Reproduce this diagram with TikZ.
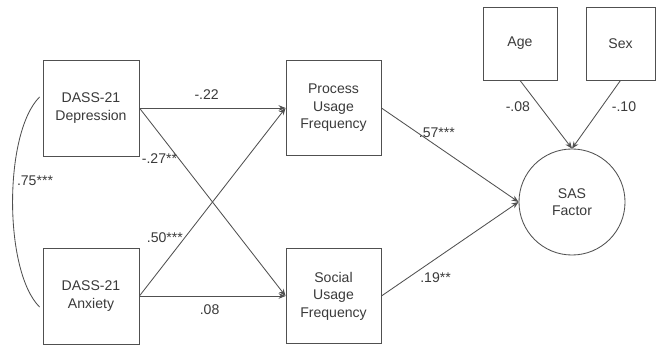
\documentclass[tikz,border=0pt]{standalone}
\usepackage{fontspec}
\setmainfont{Liberation Sans}
\usetikzlibrary{arrows.meta}
\definecolor{linegray}{HTML}{505050}
\definecolor{textgray}{HTML}{3A3A3A}

\begin{document}
\begin{tikzpicture}[x=0.025cm, y=-0.025cm,
  font=\fontsize{10}{12.5}\selectfont, text=textgray,
  box/.style={draw=linegray, line width=0.6pt, minimum size=2.4cm, align=center, inner sep=0pt},
  cov/.style={draw=linegray, line width=0.6pt, minimum width=1.85cm, minimum height=1.825cm, inner sep=0pt},
  link/.style={draw=linegray, line width=0.6pt, -{Stealth[length=5pt,width=4pt]}},
  coef/.style={inner sep=1pt}]
\useasboundingbox (0,0) rectangle (656,346);

% Predictors
\node[box] (dep) at (91,108) {DASS-21\\Depression};
\node[box] (anx) at (91,296) {DASS-21\\Anxiety};

% Mediators
\node[box, minimum size=2.375cm] (proc) at (333.5,108) {Process\\Usage\\Frequency};
\node[box, minimum size=2.375cm] (soc) at (333.5,296) {Social\\Usage\\Frequency};

% Outcome and covariates
\node[draw=linegray, line width=0.6pt, circle, minimum size=2.65cm, align=center, inner sep=0pt] (sas) at (572,202) {SAS\\Factor};
\node[cov] (age) at (520,43.5) {Age};
\node[cov, minimum width=1.725cm] (sex) at (620.5,43.5) {Sex};

% Correlation between predictors
\coordinate (ctop) at ([shift={(-3,-11)}]dep.west);
\coordinate (cbot) at ([shift={(-3,11)}]anx.west);
\draw[linegray, line width=0.6pt] (ctop) .. controls +(-36,36) and +(-36,-36) .. (cbot);
\node[coef] (rdep) at (35,181) {.75***};

% Paths
\draw[link] (dep.east) -- node[coef, above, pos=0.46, yshift=5pt] {-.22} (proc.west);
\draw[link] (dep.east) -- node[coef, anchor=east, pos=0.27] {-.27**} (soc.west);
\draw[link] (anx.east) -- node[coef, anchor=east, pos=0.31] {.50***} (proc.west);
\draw[link] (anx.east) -- node[coef, below, pos=0.48, yshift=-5pt] {.08} (soc.west);
\draw[link] (proc.east) -- node[coef, anchor=west, pos=0.26] {.57***} (sas.west);
\draw[link] (soc.east) -- node[coef, anchor=north west, pos=0.27] {.19**} (sas.west);
\draw[link] (age.south) -- node[coef, anchor=east, pos=0.39, xshift=-6pt] {-.08} (sas.north);
\draw[link] (sex.south) -- node[coef, anchor=west, pos=0.39, xshift=6pt] {-.10} (sas.north);
\end{tikzpicture}
\end{document}
